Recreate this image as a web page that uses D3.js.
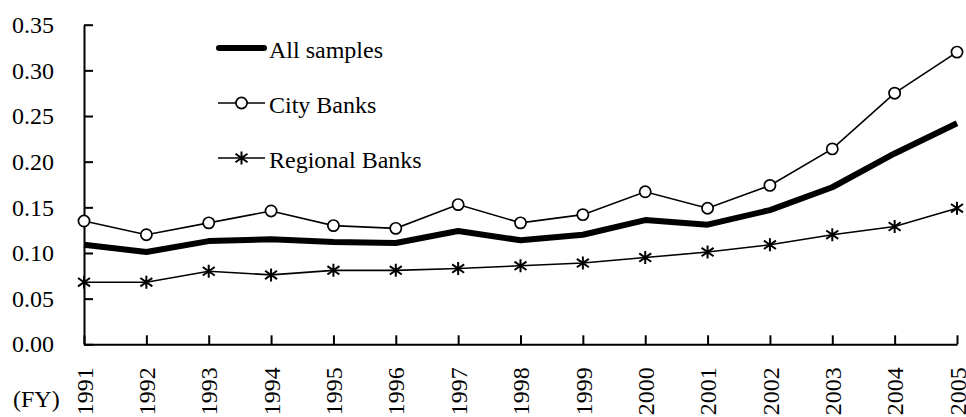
<!DOCTYPE html>
<html>
<head>
<meta charset="utf-8">
<script src="https://cdn.jsdelivr.net/npm/d3@7/dist/d3.min.js"></script>
<style>
  html, body { margin: 0; padding: 0; background: #fff; }
  svg { display: block; }
  svg text { font-family: "Liberation Serif", "Times New Roman", Times, "Tinos", "DejaVu Serif", serif !important; fill: #000; }
</style>
</head>
<body>
<svg id="chart" width="966" height="417"></svg>
<script>
const years = ["1991","1992","1993","1994","1995","1996","1997","1998","1999","2000","2001","2002","2003","2004","2005"];
const allSamples = [0.109,0.101,0.113,0.115,0.112,0.111,0.124,0.114,0.120,0.136,0.131,0.147,0.172,0.209,0.242];
const cityBanks = [0.135,0.120,0.133,0.146,0.130,0.127,0.153,0.133,0.142,0.167,0.149,0.174,0.214,0.275,0.320];
const regionalBanks = [0.068,0.068,0.080,0.076,0.081,0.081,0.083,0.086,0.089,0.095,0.101,0.109,0.120,0.129,0.149];
const yTicks = [0,0.05,0.10,0.15,0.20,0.25,0.30,0.35];
const seriesNames = ["All samples","City Banks","Regional Banks"];
const xUnitLabel = "(FY)";

const svg = d3.select("#chart");
const x = d3.scalePoint().domain(years).range([84, 957]);
const y = d3.scaleLinear().domain([0, 0.35]).range([344.3, 24.7]);
const FONT = 24;
const SERIF = "'Liberation Serif', 'Times New Roman', Times, serif";

// Y axis
const yAxis = d3.axisLeft(y).tickValues(yTicks).tickFormat(d3.format(".2f"))
  .tickSizeInner(-9).tickSizeOuter(0).tickPadding(30);
const gy = svg.append("g").attr("transform", "translate(84,0)").call(yAxis)
  .attr("font-family", SERIF).attr("font-size", FONT);
gy.select(".domain").attr("stroke", "#000").attr("stroke-width", 2);
gy.selectAll(".tick line").attr("stroke", "#000").attr("stroke-width", 2);
gy.selectAll(".tick text").attr("fill", "#000");

// X axis
const xAxis = d3.axisBottom(x).tickSizeInner(-9).tickSizeOuter(0).tickPadding(0);
const gx = svg.append("g").attr("transform", "translate(0,344.3)").call(xAxis)
  .attr("font-family", SERIF).attr("font-size", FONT);
gx.select(".domain").attr("stroke", "#000").attr("stroke-width", 2);
gx.selectAll(".tick line").attr("stroke", "#000").attr("stroke-width", 2);
gx.selectAll(".tick text")
  .attr("fill", "#000")
  .attr("transform", "rotate(-90)")
  .attr("text-anchor", "end")
  .attr("x", -23).attr("y", 0).attr("dy", "0.34em");

svg.append("text").attr("x", 13).attr("y", 407).attr("font-size", FONT).text(xUnitLabel);

const line = d3.line().x((d, i) => x(years[i])).y(d => y(d));

// Lines
svg.append("path").datum(cityBanks).attr("d", line)
  .attr("fill", "none").attr("stroke", "#000").attr("stroke-width", 1.6);
svg.append("path").datum(regionalBanks).attr("d", line)
  .attr("fill", "none").attr("stroke", "#000").attr("stroke-width", 1.6);
svg.append("path").datum(allSamples).attr("d", line)
  .attr("fill", "none").attr("stroke", "#000").attr("stroke-width", 6).attr("stroke-linejoin", "round");

const starPath = "M0,-6.5L0,6.5M-6,-4.2L6,4.2M-6,4.2L6,-4.2";

// Markers
svg.append("g").selectAll("circle").data(cityBanks).join("circle")
  .attr("cx", (d, i) => x(years[i])).attr("cy", d => y(d)).attr("r", 5.6)
  .attr("fill", "#fff").attr("stroke", "#000").attr("stroke-width", 1.7);
svg.append("g").selectAll("path").data(regionalBanks).join("path")
  .attr("transform", (d, i) => `translate(${x(years[i])},${y(d)})`)
  .attr("d", starPath).attr("fill", "none").attr("stroke", "#000").attr("stroke-width", 2);

// Legend
const lg = svg.append("g");
const ly = [48, 103, 158];
lg.append("line").attr("x1", 219).attr("x2", 264).attr("y1", ly[0]).attr("y2", ly[0])
  .attr("stroke", "#000").attr("stroke-width", 6).attr("stroke-linecap", "round");
lg.append("line").attr("x1", 218).attr("x2", 265).attr("y1", ly[1]).attr("y2", ly[1])
  .attr("stroke", "#000").attr("stroke-width", 1.6);
lg.append("circle").attr("cx", 241.5).attr("cy", ly[1]).attr("r", 5.6)
  .attr("fill", "#fff").attr("stroke", "#000").attr("stroke-width", 1.7);
lg.append("line").attr("x1", 218).attr("x2", 265).attr("y1", ly[2]).attr("y2", ly[2])
  .attr("stroke", "#000").attr("stroke-width", 1.6);
lg.append("path").attr("transform", `translate(241.5,${ly[2]})`).attr("d", starPath)
  .attr("fill", "none").attr("stroke", "#000").attr("stroke-width", 2);
seriesNames.forEach((n, i) => {
  lg.append("text").attr("x", 269).attr("y", ly[i] + 10).attr("font-size", FONT).text(n);
});
</script>
</body>
</html>
